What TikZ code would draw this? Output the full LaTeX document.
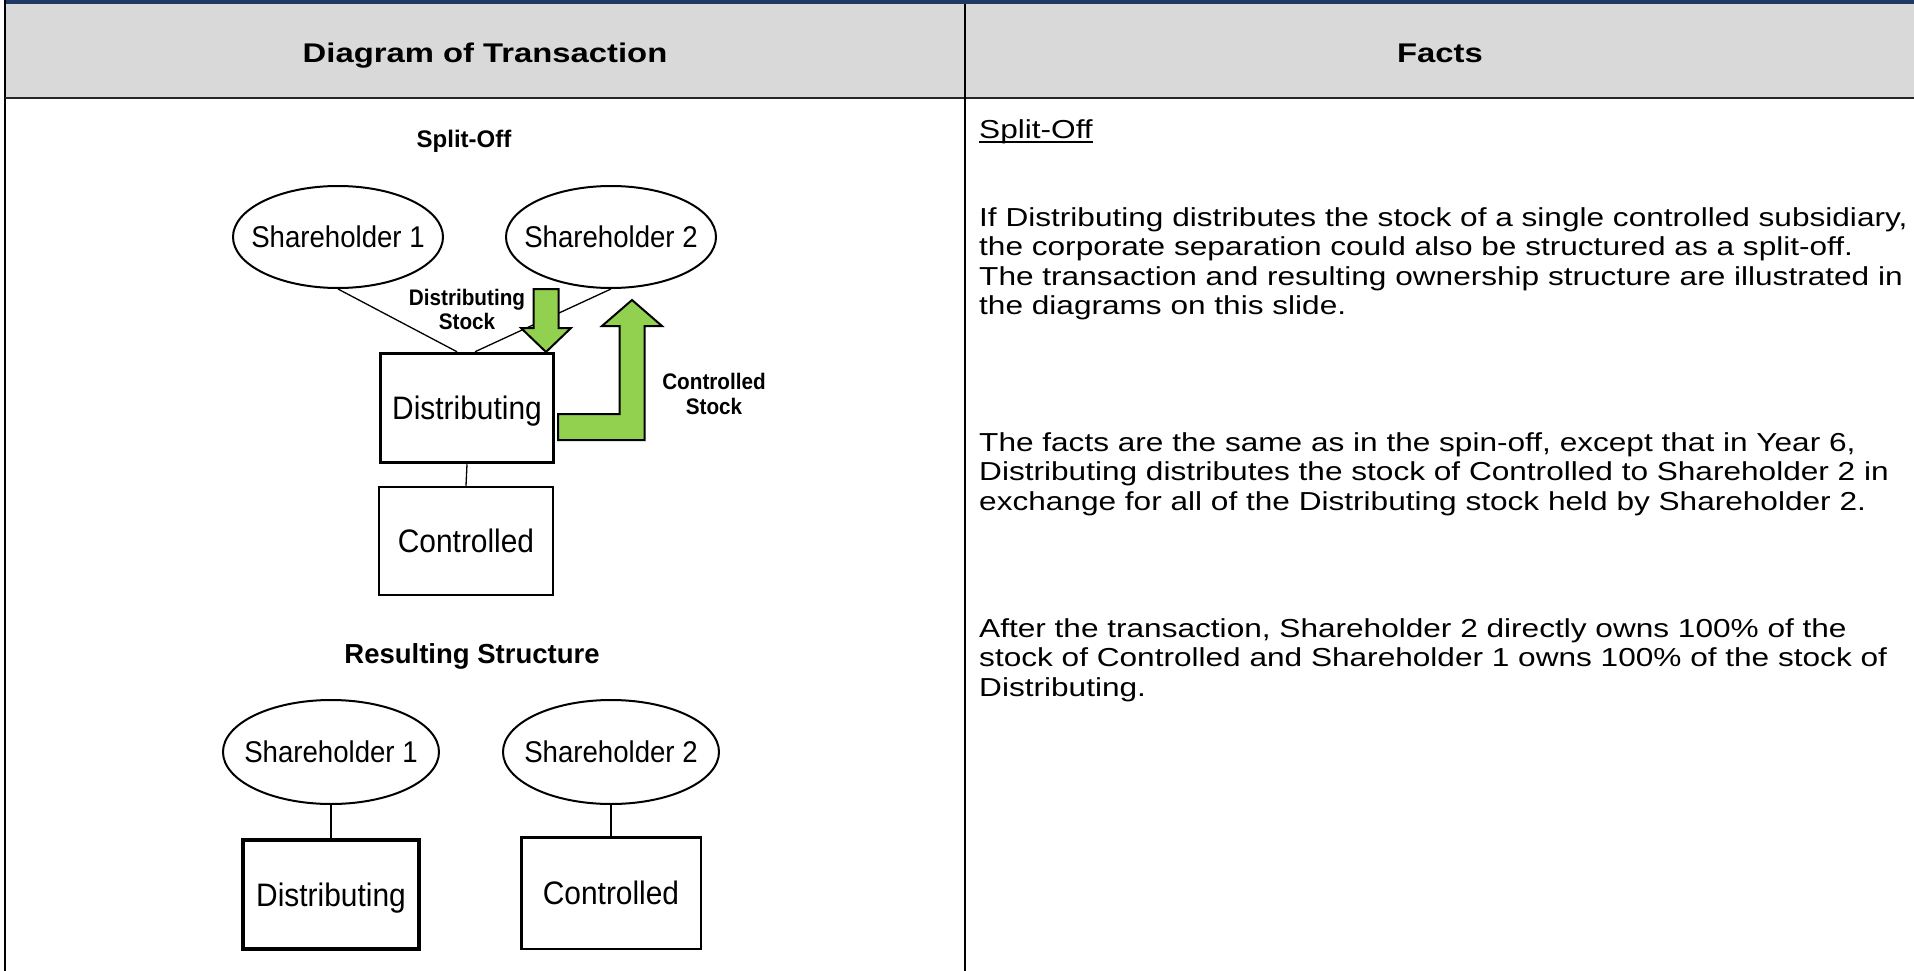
\documentclass[tikz,border=0pt]{standalone}
\usepackage{fontspec}
\setmainfont{Liberation Sans}
\newfontfamily\tf{Liberation Sans}[FakeStretch=1.215]
\newfontfamily\df{Liberation Sans}[FakeStretch=0.92]
\usetikzlibrary{shapes.geometric}
\definecolor{agreen}{HTML}{92D050}
\definecolor{navy}{HTML}{1F3864}
\definecolor{hdrgray}{HTML}{D9D9D9}
\tikzset{
  holder/.style={ellipse, draw=black, line width=2pt, inner xsep=-25pt, inner ysep=0pt,
    font=\df\fontsize{30}{36}\selectfont, text height=21.5pt, text depth=0pt},
  corp/.style={rectangle, draw=black, inner sep=0pt,
    font=\df\fontsize{32.5}{39}\selectfont, text height=23pt, text depth=0pt},
  link/.style={draw=black, line width=1.3pt},
  flow/.style={draw=black, line width=2pt, fill=agreen, line join=miter},
  albl/.style={font=\df\bfseries\fontsize{22.5}{24.5}\selectfont, align=center, inner sep=0pt},
  title/.style={font=\bfseries\fontsize{#1}{30}\selectfont, inner sep=0pt},
  hdr/.style={font=\tf\bfseries\fontsize{27}{32}\selectfont, inner sep=0pt, anchor=base},
  body/.style={font=\tf\fontsize{26}{29.5}\selectfont, inner sep=0pt, anchor=base west, align=left},
  rule/.style={line width=2.5pt}
}
\begin{document}
\begin{tikzpicture}[x=1pt,y=-1pt]
\useasboundingbox (0,0) rectangle (1914,971);
% table
\fill[white] (0,0) rectangle (1914,971);
\fill[hdrgray] (5,4) rectangle (1914,98);
\fill[navy] (5,0) rectangle (1914,4.5);
\draw[rule,black] (5,0) -- (5,971);
\draw[rule,black!85] (5,98) -- (1914,98);
\draw[rule,black] (965,4) -- (965,971);
\node[hdr] (h1) at (485,63) {Diagram of Transaction};
\node[hdr] (h2) at (1440,63) {Facts};
% facts text (anchor = baseline of the last line)
\node[body] (sp) at (979,139) {Split-Off};
\draw[line width=2pt] ([yshift=-3.5pt]sp.base west) -- ([yshift=-3.5pt]sp.base east);
\node[body] (p1) at (979,314.5) {If Distributing distributes the stock of a single controlled subsidiary,\\
the corporate separation could also be structured as a split-off.\\
The transaction and resulting ownership structure are illustrated in\\
the diagrams on this slide.};
\node[body] (p2) at (979,510) {The facts are the same as in the spin-off, except that in Year 6,\\
Distributing distributes the stock of Controlled to Shareholder 2 in\\
exchange for all of the Distributing stock held by Shareholder 2.};
\node[body] (p3) at (979,696) {After the transaction, Shareholder 2 directly owns 100\% of the\\
stock of Controlled and Shareholder 1 owns 100\% of the stock of\\
Distributing.};
% split-off diagram
\node[title=24] (t1) at (464,141) {Split-Off};
\node[holder, minimum width=210pt, minimum height=102pt] (s1) at (338,237) {Shareholder 1};
\node[holder, minimum width=210pt, minimum height=102pt] (s2) at (611,237) {Shareholder 2};
\node[corp, line width=3.5pt, minimum width=173pt, minimum height=109pt] (dist) at (467,408) {Distributing};
\node[corp, line width=2.5pt, minimum width=174pt, minimum height=108pt] (ctrl) at (466,541) {Controlled};
\draw[link] (s1.south) -- ([xshift=-10pt]dist.north);
\draw[link] (s2.south) -- ([xshift=8pt]dist.north);
\draw[link] (dist.south) -- (ctrl.north);
\draw[flow] (533.5,289) -- (558.5,289) -- (558.5,328) -- (571,328) -- (546,352) -- (521,328) -- (533.5,328) -- cycle;
\draw[flow] (558,414) -- (619.5,414) -- (619.5,326) -- (602,326) -- (632,300) -- (662,326) -- (644.5,326) -- (644.5,440) -- (558,440) -- cycle;
\node[albl] (l1) at (467,309.5) {Distributing\\Stock};
\node[albl] (l2) at (714,394) {Controlled\\Stock};
% resulting structure
\node[title=27.5] (t2) at (472,656) {Resulting Structure};
\node[holder, minimum width=216pt, minimum height=104pt] (b1) at (331,752) {Shareholder 1};
\node[holder, minimum width=216pt, minimum height=104pt] (b2) at (611,752) {Shareholder 2};
\node[corp, line width=4pt, minimum width=176pt, minimum height=109pt] (bdist) at (331,894.5) {Distributing};
\node[corp, line width=2.5pt, minimum width=179.5pt, minimum height=111.5pt] (bctrl) at (611,893) {Controlled};
\draw[link] (b1.south) -- (bdist.north);
\draw[link] (b2.south) -- (bctrl.north);
\end{tikzpicture}
\end{document}
